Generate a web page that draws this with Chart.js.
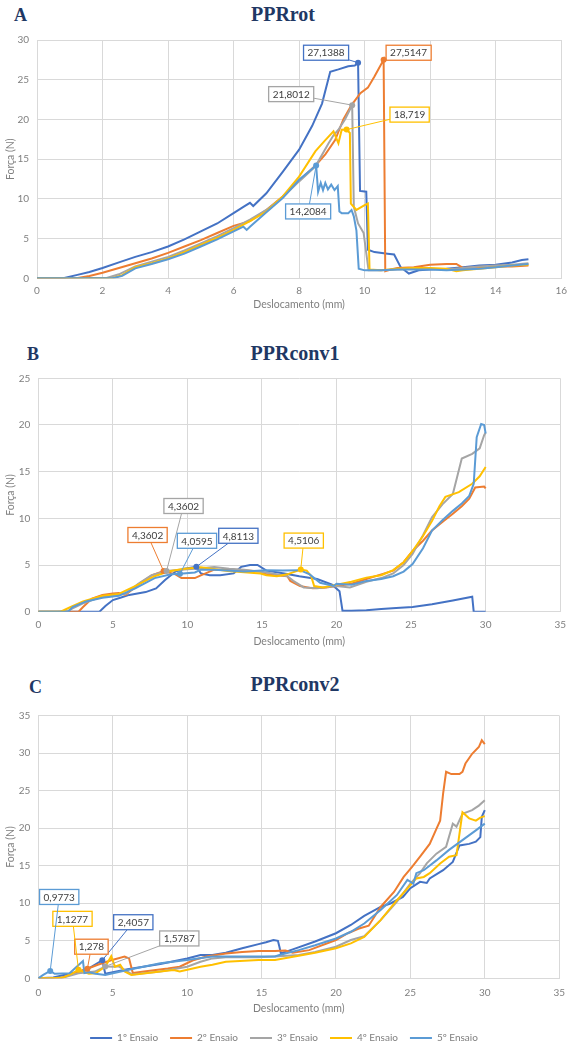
<!DOCTYPE html>
<html><head><meta charset="utf-8">
<script src="https://cdn.jsdelivr.net/npm/chart.js@4.4.1/dist/chart.umd.min.js"></script>
<style>
html,body{margin:0;padding:0;width:573px;height:1045px;overflow:hidden;background:#fff;}
canvas{position:absolute;left:0;}
.ttl{position:absolute;font-family:"Liberation Serif","Times New Roman",serif;font-weight:bold;color:#1f3864;line-height:1;white-space:nowrap;}
.big{font-size:20px;width:200px;text-align:center;}
.let{font-size:18px;}
</style></head><body>
<div class="ttl let" style="left:14px;top:6px">A</div>
<div class="ttl big" style="left:183px;top:4px">PPRrot</div>
<div class="ttl let" style="left:27px;top:345px">B</div>
<div class="ttl big" style="left:195px;top:343px">PPRconv1</div>
<div class="ttl let" style="left:29px;top:678px">C</div>
<div class="ttl big" style="left:195px;top:674px">PPRconv2</div>
<canvas id="cA" width="573" height="313" style="top:0px"></canvas>
<canvas id="cB" width="573" height="310" style="top:340px"></canvas>
<canvas id="cC" width="573" height="353" style="top:700px"></canvas>
<script>
// ---------- DATA ----------
const seriesNames = ['1º Ensaio','2º Ensaio','3º Ensaio','4º Ensaio','5º Ensaio'];
const axisX = 'Deslocamento (mm)';
const axisY = 'Força (N)';

// Chart A : PPRrot
const A1x = [0,0.8,1.2,1.6,2,2.5,3,3.5,4,4.5,5,5.5,6,6.3,6.5,6.6,7,7.5,8,8.4,8.7,8.95,9.2,9.5,9.7,9.8,9.86,10.05,10.1,10.3,10.7,10.9,11.1,11.35,11.65,12,12.5,13,13.5,14,14.5,14.8,15];
const A1y = [0,0,0.4,0.8,1.3,2.0,2.7,3.3,4.0,4.9,5.9,6.9,8.2,9.0,9.5,9.1,10.7,13.4,16.2,19.2,22.0,26.0,26.3,26.7,26.8,27.1388,11.0,10.9,3.6,3.3,3.1,3.0,1.4,0.6,1.0,1.1,1.2,1.4,1.6,1.7,2.0,2.3,2.4];
const A2x = [0,1.2,1.6,2,2.5,3,3.5,4,4.5,5,5.5,6,6.5,7,7.5,8,8.5,8.8,9.1,9.35,9.6,9.87,10.1,10.3,10.58,10.63,10.8,11,11.5,12,12.5,12.8,13,13.5,14,14.5,15];
const A2y = [0,0,0.3,0.7,1.3,1.9,2.5,3.2,4.0,4.8,5.7,6.6,7.2,8.6,10.3,12.3,14.2,15.6,17.4,20.0,21.8,23.3,24.0,25.4,27.5147,0.9,1.1,1.3,1.4,1.7,1.8,1.8,1.3,1.4,1.5,1.5,1.6];
const A3x = [0,2.1,2.5,3,3.5,4,4.5,5,5.5,6,6.5,7,7.5,8,8.5,8.9,9.05,9.2,9.4,9.62,9.67,9.8,9.97,10.12,10.5,11,11.5,12,12.5,13,13.5,14,14.5,15];
const A3y = [0,0,0.5,1.5,2.1,2.7,3.5,4.4,5.3,6.3,7.4,8.6,10.2,12.2,14.1,17.0,18.0,18.7,20.0,21.8012,9.0,6.9,5.7,1.0,1.0,1.1,1.2,1.2,1.1,1.3,1.5,1.6,1.7,1.9];
const A4x = [0,2.3,2.6,3,3.5,4,4.5,5,5.5,6,6.5,7,7.5,8,8.5,8.8,9.05,9.2,9.3,9.45,9.55,9.58,9.75,10.0,10.1,10.15,10.5,11,11.5,12,12.5,12.8,13,13.5,14,14.5,15];
const A4y = [0,0,0.4,1.4,1.9,2.5,3.3,4.2,5.1,6.1,7.2,8.4,10.3,12.8,16.0,17.4,18.5,17.0,18.7,18.719,18.3,9.4,8.6,9.2,9.4,1.1,1.0,1.2,1.3,1.3,1.2,0.9,1.0,1.2,1.4,1.6,1.7];
const A5x = [0,2.3,2.6,3,3.5,4,4.5,5,5.5,6,6.3,6.4,6.5,7,7.5,8,8.52,8.58,8.66,8.73,8.8,8.88,8.98,9.08,9.18,9.23,9.3,9.5,9.6,9.67,9.75,9.82,10,10.5,11,11.5,12,12.5,13,13.5,14,14.5,15];
const A5y = [0,0,0.3,1.25,1.8,2.4,3.1,4.0,4.9,5.9,6.5,6.1,6.5,8.3,10.1,12.4,14.2084,10.9,12.0,11.1,12.0,11.2,11.8,11.1,11.6,8.4,8.2,8.2,8.6,7.8,6.0,1.2,1.0,1.0,1.1,1.1,1.1,1.0,1.1,1.2,1.4,1.6,1.8];
const A_peaks = [25,24,19,19,16];

// Chart B : PPRconv1
const B1x = [0,4.1,4.5,5,5.5,6.1,7.2,7.9,8.5,9.2,9.8,10.6,10.9,11.5,12.2,13.1,13.6,14.2,14.7,15.3,16.5,17.5,18.7,19.7,20.2,20.4,21,22,23,24,25.1,26.4,27.8,29.1,29.2,30];
const B1y = [0,0,0.6,1.25,1.5,1.8,2.1,2.5,3.4,4.3,4.6,4.8113,4.1,3.9,3.9,4.1,4.8,5.0,5.0,4.4,4.1,3.8,3.5,2.9,2.2,0.1,0.1,0.15,0.3,0.4,0.5,0.8,1.2,1.6,0,0];
const B2x = [0,2.7,3.0,3.6,4.3,5.0,5.4,5.85,6.7,7.6,8.4,9.2,9.6,10.5,10.9,11.8,13.1,14.9,15.3,16.7,16.9,17.55,18.4,19.3,20,21,22,23,23.8,24.5,25.1,25.8,26.4,27.1,27.8,28.4,28.9,29.3,29.9,30];
const B2y = [0,0,0.5,1.4,1.8,1.95,2.0,1.8,2.9,3.9,4.3602,4.0,3.6,3.6,3.9,4.5,4.5,4.3,4.0,3.8,3.3,2.75,2.5,2.6,2.75,3.0,3.5,4.0,4.4,5.3,6.5,7.6,8.7,9.6,10.5,11.3,12.1,13.3,13.4,13.2];
const B3x = [0,1.3,2.0,2.3,3.0,3.9,5.0,5.85,6.7,7.6,8.6,9.5,10.5,11.8,12.8,13.8,15.3,16.7,17.1,17.8,18.7,20,20.9,22,23,23.8,24.5,25.1,25.8,26.4,27.1,27.8,28.1,28.4,29.1,29.6,29.9,30];
const B3y = [0,0,0.1,0.35,0.9,1.4,1.8,1.9,3.0,3.9,4.3602,4.5,4.6,4.8,4.6,4.5,4.2,3.8,3.3,2.6,2.5,2.75,2.6,3.2,3.6,4.1,5.0,6.2,8.2,10.1,11.5,12.6,14.5,16.4,16.9,17.5,18.9,19.2];
const B4x = [0,1.5,2.1,3.0,4.3,5.4,6.7,7.8,8.7,9.8,10.9,12.7,14.9,15.3,16.0,16.7,17.6,18.0,18.3,18.5,19.1,20,21,22,23,23.8,24.5,25.1,25.8,26.4,26.9,27.3,28.2,29.1,29.6,30];
const B4y = [0,0,0.45,1.1,1.7,1.9,2.9,3.8,4.3,4.6,4.75,4.35,4.1,3.9,3.8,4.0,4.5106,4.4,3.8,2.75,2.6,2.9,3.2,3.65,3.9,4.45,5.3,6.5,8.1,9.7,11.3,12.3,12.8,13.7,14.5,15.5];
const B5x = [0,2.0,2.3,3.2,4.3,5.4,6.5,7.8,8.9,9.5,10.5,10.9,11.8,13.8,15.3,16.4,17.55,18.2,18.9,19.8,20,21,22,23,23.8,24.5,25.1,25.8,26.4,27.1,27.8,28.4,28.9,29.2,29.4,29.7,29.9,30];
const B5y = [0,0,0.5,1.1,1.5,1.7,2.5,3.6,4.0,4.0595,4.2,4.5,4.5,4.3,4.45,4.4,4.45,4.0,3.1,2.75,3.0,2.9,3.3,3.5,3.8,4.3,5.1,6.8,8.7,9.8,10.8,11.6,12.4,13.7,18.7,20.1,20.0,19.1];
const B_peaks = [11,10,10,16,9];

// Chart C : PPRconv2
const C1x = [0,1.0,2.1,3.2,4.3,4.5,6.0,8.2,10.0,10.9,11.7,12.6,13.7,14.8,15.3,15.8,16.1,16.2,16.3,17.1,18.6,20,21,21.9,23,23.7,24.5,25,25.65,26.1,26.3,27.2,27.85,28.3,28.95,29.4,29.7,29.8,30];
const C1y = [0,0.1,0.6,1.1,2.4057,0.6,1.2,1.9,2.65,3.1,3.1,3.4,4.0,4.55,4.8,5.1,5.0,4.2,3.3,3.85,4.9,6.0,7.1,8.3,9.5,10.0,10.85,12.0,12.85,12.7,13.3,14.4,15.5,17.7,17.9,18.2,18.8,21.5,22.4];
const C2x = [0,1.5,2.7,3.3,4.0,4.9,5.8,6.1,6.35,7.1,8.7,9.5,10.4,11.3,12.6,13.7,14.8,15.9,16.6,17.1,18.2,20,20.8,21.5,22.2,23,23.9,24.55,25.1,25.65,26.3,26.75,27.0,27.2,27.4,27.75,28.3,28.5,28.7,29.15,29.6,29.8,30];
const C2y = [0,0,0.9,1.278,1.8,2.4,2.9,2.65,0.7,0.9,1.3,1.55,2.4,2.9,3.3,3.5,3.65,3.65,3.7,3.4,3.75,5.1,6.0,6.6,7.0,9.5,11.5,13.5,14.8,16.2,17.9,19.9,21.0,24.6,27.5,27.2,27.2,27.5,28.6,29.9,30.8,31.7,31.2];
const C3x = [0,1.5,2.7,3.8,4.5,5.15,5.4,6.0,6.3,8.2,10.0,10.9,11.7,12.6,14.8,15.9,17.5,18.6,20,21,21.9,23,24.1,25,25.65,26.1,26.75,27.4,27.85,28.1,28.5,29.15,29.6,30];
const C3y = [0,0,0.66,0.9,1.5787,1.55,1.6,0.9,0.5,0.9,1.55,2.2,2.65,2.8,2.8,2.9,3.1,3.5,4.2,5.1,5.6,7.75,10.2,12.6,14.0,15.3,16.6,17.5,20.6,20.2,21.9,22.4,23.0,23.7];
const C4x = [0,1.0,1.65,2.3,2.7,3.4,3.85,4.5,4.9,5.15,5.5,5.8,6.25,8.2,9.1,9.5,10.9,11.7,12.6,14.8,15.9,17.5,18.6,20,21,21.9,23,24.1,25,25.4,25.9,26.3,27,27.6,28.1,28.5,28.95,29.4,29.7,30];
const C4y = [0,0,0.1,0.66,1.1277,0.6,0.66,1.55,2.95,1.55,1.8,0.9,0.45,0.9,1.1,0.9,1.55,1.8,2.2,2.45,2.45,3.0,3.4,4.0,4.65,5.5,7.75,10.4,12.4,13.3,13.5,14.0,15.3,16.2,16.4,22.1,21.3,21.0,21.4,21.6];
const C5x = [0,0.33,0.8,1.1,2.1,3.0,3.1,3.4,3.85,4.5,6.0,8.2,10.0,11.7,13.7,15.9,16.2,17.5,18.6,20,21,21.9,23,24.1,24.8,25.2,25.4,25.9,26.75,27.6,28.5,29.4,30];
const C5y = [0,0.45,0.9773,0.6,0.66,2.3,0.7,0.8,0.6,0.45,1.1,2.0,2.45,2.9,2.9,2.9,3.1,3.75,4.4,5.3,6.2,7.3,9.1,11.1,13.1,12.6,14.0,14.4,15.7,17.1,18.4,19.7,20.6];
const C_peaks = [4,3,4,4,2];

// ---------- STYLE ----------
const COLORS = ['#4472C4','#ED7D31','#A5A5A5','#FFC000','#5B9BD5'];
const GRID = '#d9d9d9';
const TXT = '#7f7f7f';
const FONT = 'Lato';

const calloutPlugin = {
  id: 'callouts',
  afterDatasetsDraw(chart) {
    const cfg = chart.options.plugins.callouts;
    if (!cfg) return;
    const ctx = chart.ctx;
    chart.data.datasets.forEach((ds, i) => {
      const idx = cfg.peaks[i];
      const el = chart.getDatasetMeta(i).data[idx];
      if (!el) return;
      const px = el.x, py = el.y;
      const text = String(ds.data[idx].y).replace('.', ',');
      ctx.save();
      ctx.font = '10px ' + FONT;
      const w = ctx.measureText(text).width + 8, h = 15;
      const cx = px + cfg.offsets[i][0], cy = py + cfg.offsets[i][1];
      const dx = px - cx, dy = py - cy;
      const s = Math.min(dx ? (w / 2) / Math.abs(dx) : Infinity, dy ? (h / 2) / Math.abs(dy) : Infinity);
      ctx.strokeStyle = COLORS[i];
      if (s < 1) {
        ctx.lineWidth = 1;
        ctx.beginPath();
        ctx.moveTo(px, py);
        ctx.lineTo(cx + dx * s, cy + dy * s);
        ctx.stroke();
      }
      ctx.fillStyle = '#fff';
      ctx.fillRect(cx - w / 2, cy - h / 2, w, h);
      ctx.lineWidth = 1.3;
      ctx.strokeRect(cx - w / 2, cy - h / 2, w, h);
      ctx.fillStyle = '#404040';
      ctx.textAlign = 'center';
      ctx.textBaseline = 'middle';
      ctx.fillText(text, cx, cy + 0.5);
      ctx.beginPath();
      ctx.fillStyle = COLORS[i];
      ctx.arc(px, py, 3, 0, Math.PI * 2);
      ctx.fill();
      ctx.restore();
    });
  }
};

function makeChart(id, xs, ys, peaks, offsets, o) {
  const datasets = xs.map((xa, i) => ({
    label: seriesNames[i],
    data: xa.map((x, k) => ({x: x, y: ys[i][k]})),
    borderColor: COLORS[i],
    backgroundColor: COLORS[i],
    borderWidth: 2,
    pointRadius: 0,
    pointHoverRadius: 0,
    tension: 0,
    fill: false,
    order: 5 - i
  }));
  return new Chart(document.getElementById(id), {
    type: 'line',
    data: {datasets},
    plugins: [calloutPlugin],
    options: {
      responsive: false,
      animation: false,
      events: [],
      devicePixelRatio: 1,
      layout: {padding: {top: o.padTop, right: o.padRight, left: 0, bottom: 0}},
      plugins: {
        tooltip: {enabled: false},
        callouts: {peaks, offsets},
        legend: o.legend ? {
          display: true,
          position: 'bottom',
          labels: {
            usePointStyle: true, pointStyle: 'line', pointStyleWidth: 22,
            color: TXT, font: {family: FONT, size: 10}, padding: 12,
            sort: (a, b) => a.datasetIndex - b.datasetIndex
          }
        } : {display: false}
      },
      scales: {
        x: {
          type: 'linear', min: 0, max: o.xMax,
          ticks: {stepSize: o.xStep, color: TXT, font: {family: FONT, size: 10}, padding: o.xTickPad, maxRotation: 0, autoSkip: false},
          grid: {color: GRID, lineWidth: 1, drawTicks: false},
          border: {color: GRID},
          title: {display: true, text: axisX, color: TXT, font: {family: FONT, size: 10.5}, padding: {top: 0, bottom: o.xTitlePad}},
          afterFit: s => { s.height = o.xH; }
        },
        y: {
          type: 'linear', min: 0, max: o.yMax,
          ticks: {stepSize: 5, color: TXT, font: {family: FONT, size: 10}, padding: 8},
          grid: {color: GRID, lineWidth: 1, drawTicks: false},
          border: {color: GRID},
          title: {display: true, text: axisY, color: TXT, font: {family: FONT, size: 10.5}, padding: {top: 4, bottom: 0}},
          afterFit: s => { s.width = o.yW; }
        }
      }
    }
  });
}

makeChart('cA', [A1x,A2x,A3x,A4x,A5x], [A1y,A2y,A3y,A4y,A5y], A_peaks,
  [[-32,-10],[25,-7],[-61,-11],[63,-15],[-8,46]],
  {padTop: 40, padRight: 10, xMax: 16, xStep: 2, yMax: 30, xH: 34.7, yW: 37, xTickPad: 6, xTitlePad: 2});
makeChart('cB', [B1x,B2x,B3x,B4x,B5x], [B1y,B2y,B3y,B4y,B5y], B_peaks,
  [[42,-31],[-16,-36],[17,-65],[3,-29],[17,-33]],
  {padTop: 38.3, padRight: 8, xMax: 35, xStep: 5, yMax: 25, xH: 38.3, yW: 38.3, xTickPad: 7, xTitlePad: 2});
makeChart('cC', [C1x,C2x,C3x,C4x,C5x], [C1y,C2y,C3y,C4y,C5y], C_peaks,
  [[31,-38],[4,-22],[74,-28],[-6,-51],[9,-74]],
  {padTop: 15.5, padRight: 5, xMax: 35, xStep: 5, yMax: 35, xH: 42.7, yW: 38.3, xTickPad: 8, xTitlePad: 6, legend: true});
</script>
</body></html>
